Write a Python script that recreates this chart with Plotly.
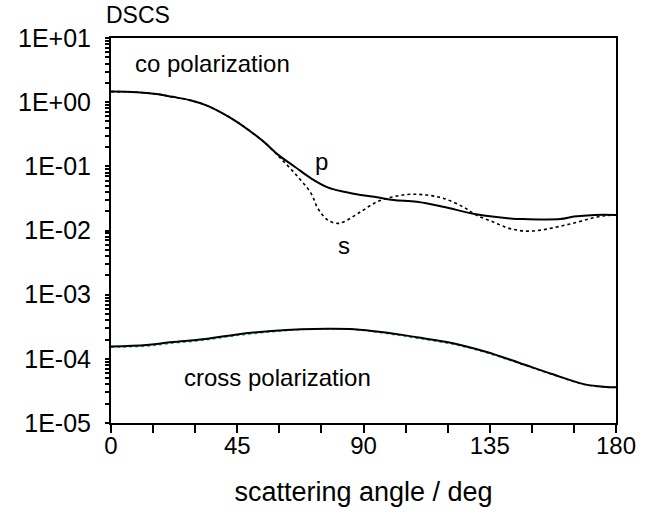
import plotly.graph_objects as go

# co polarization, p (solid)
p_angle = [0, 9.2, 16.1, 22, 27.9, 34, 39.5, 45, 50.1, 55, 59.6, 65.5, 71.3, 77.2, 83.1, 89.0,
           94.9, 100.7, 109.0, 118.4, 130.1, 143.1, 147, 160.1, 165, 172.4, 180]
p_dscs = [1.46, 1.43, 1.34, 1.21, 1.08, 0.89, 0.68, 0.49, 0.34, 0.23, 0.151, 0.0987, 0.0651,
          0.0471, 0.0402, 0.0357, 0.0329, 0.0299, 0.0281, 0.0235, 0.0179, 0.0153, 0.0151,
          0.0151, 0.0165, 0.0175, 0.0175]

# co polarization, s (dotted)
s_angle = [0, 9.2, 16.1, 22, 27.9, 34, 39.5, 45, 50.1, 55, 59.6, 65.5, 71.3, 73.7, 77.2,
           80.7, 83.1, 89.0, 94.9, 100.7, 106.6, 112.5, 118.4, 125.4, 130.1, 136.0, 141.9,
           147.7, 153.6, 159.5, 165.4, 171.3, 176.0, 180]
s_dscs = [1.46, 1.43, 1.34, 1.21, 1.08, 0.89, 0.68, 0.49, 0.34, 0.23, 0.145, 0.0778, 0.038,
          0.0222, 0.0146, 0.0129, 0.0137, 0.0196, 0.0281, 0.0336, 0.0367, 0.0357, 0.0318,
          0.0235, 0.0175, 0.0137, 0.0108, 0.0098, 0.0102, 0.0115, 0.0132, 0.0155, 0.0170,
          0.0175]

# cross polarization
c_angle = [0, 12.6, 20.2, 32.5, 44.3, 57.2, 67.8, 77, 86.6, 97.2, 109.0, 121.9, 133.6,
           145.4, 157.2, 168.9, 176.5, 180]
c_p_dscs = [1.55e-4, 1.64e-4, 1.79e-4, 2.02e-4, 2.38e-4, 2.72e-4, 2.90e-4, 2.95e-4, 2.90e-4,
            2.59e-4, 2.17e-4, 1.75e-4, 1.29e-4, 8.7e-5, 5.8e-5, 4.0e-5, 3.65e-5, 3.6e-5]
c_s_dscs = [1.52e-4, 1.58e-4, 1.72e-4, 1.94e-4, 2.29e-4, 2.64e-4, 2.86e-4, 2.93e-4, 2.88e-4,
            2.52e-4, 2.10e-4, 1.69e-4, 1.25e-4, 8.5e-5, 5.7e-5, 3.95e-5, 3.6e-5, 3.6e-5]

x_ticks = [0, 15, 30, 45, 60, 75, 90, 105, 120, 135, 150, 165, 180]
x_labels = ["0", "", "", "45", "", "", "90", "", "", "135", "", "", "180"]
y_major = [1e-5, 1e-4, 1e-3, 1e-2, 1e-1, 1e0, 1e1]
y_major_labels = ["1E-05", "1E-04", "1E-03", "1E-02", "1E-01", "1E+00", "1E+01"]

y_ticks, y_labels = [], []
for i, dec in enumerate(y_major):
    y_ticks.append(dec)
    y_labels.append(y_major_labels[i])
    if i < len(y_major) - 1:
        for m in range(2, 10):
            y_ticks.append(dec * m)
            y_labels.append("")

FONT = "Liberation Sans, Arial, sans-serif"

fig = go.Figure()
fig.add_trace(go.Scatter(x=c_angle, y=c_s_dscs, mode="lines",
                         line=dict(color="#2a9d9d", width=1.5, dash="dot", shape="spline")))
fig.add_trace(go.Scatter(x=c_angle, y=c_p_dscs, mode="lines",
                         line=dict(color="black", width=2, shape="spline")))
fig.add_trace(go.Scatter(x=s_angle, y=s_dscs, mode="lines",
                         line=dict(color="black", width=1.6, dash="dot", shape="spline")))
fig.add_trace(go.Scatter(x=p_angle, y=p_dscs, mode="lines",
                         line=dict(color="black", width=2, shape="spline")))

fig.update_layout(
    width=648, height=515,
    margin=dict(l=111, r=27, t=38, b=92),
    paper_bgcolor="white", plot_bgcolor="white",
    showlegend=False,
    font=dict(family=FONT, size=24, color="black"),
    xaxis=dict(range=[0, 180], tickvals=x_ticks, ticktext=x_labels,
               ticks="outside", ticklen=8, tickwidth=1.5, tickcolor="black",
               showline=True, linecolor="black", linewidth=2, mirror=True,
               showgrid=False, zeroline=False, ticklabelstandoff=-8,
               title=dict(text="scattering angle / deg", font=dict(size=27), standoff=24),
               tickfont=dict(size=24)),
    yaxis=dict(type="log", range=[-5, 1], tickvals=y_ticks, ticktext=y_labels,
               ticks="outside", ticklen=4, tickwidth=1.5, tickcolor="black",
               showline=True, linecolor="black", linewidth=2, mirror=True,
               showgrid=False, zeroline=False, ticklabelstandoff=9,
               tickfont=dict(size=25)),
    annotations=[
        dict(text="DSCS", xref="paper", yref="paper", x=-0.014, y=1.0, xanchor="left",
             yanchor="bottom", showarrow=False, font=dict(size=23), yshift=8),
        dict(text="co polarization", x=7.8, y=0.595, xref="x", yref="y", xanchor="left",
             yanchor="middle", showarrow=False, font=dict(size=24)),
        dict(text="p", x=75.1, y=-0.932, xref="x", yref="y", xanchor="center",
             yanchor="middle", showarrow=False, font=dict(size=24)),
        dict(text="s", x=83.2, y=-2.241, xref="x", yref="y", xanchor="center",
             yanchor="middle", showarrow=False, font=dict(size=24)),
        dict(text="cross polarization", x=25.4, y=-4.298, xref="x", yref="y", xanchor="left",
             yanchor="middle", showarrow=False, font=dict(size=24)),
    ],
)

fig.write_html("out.html")
